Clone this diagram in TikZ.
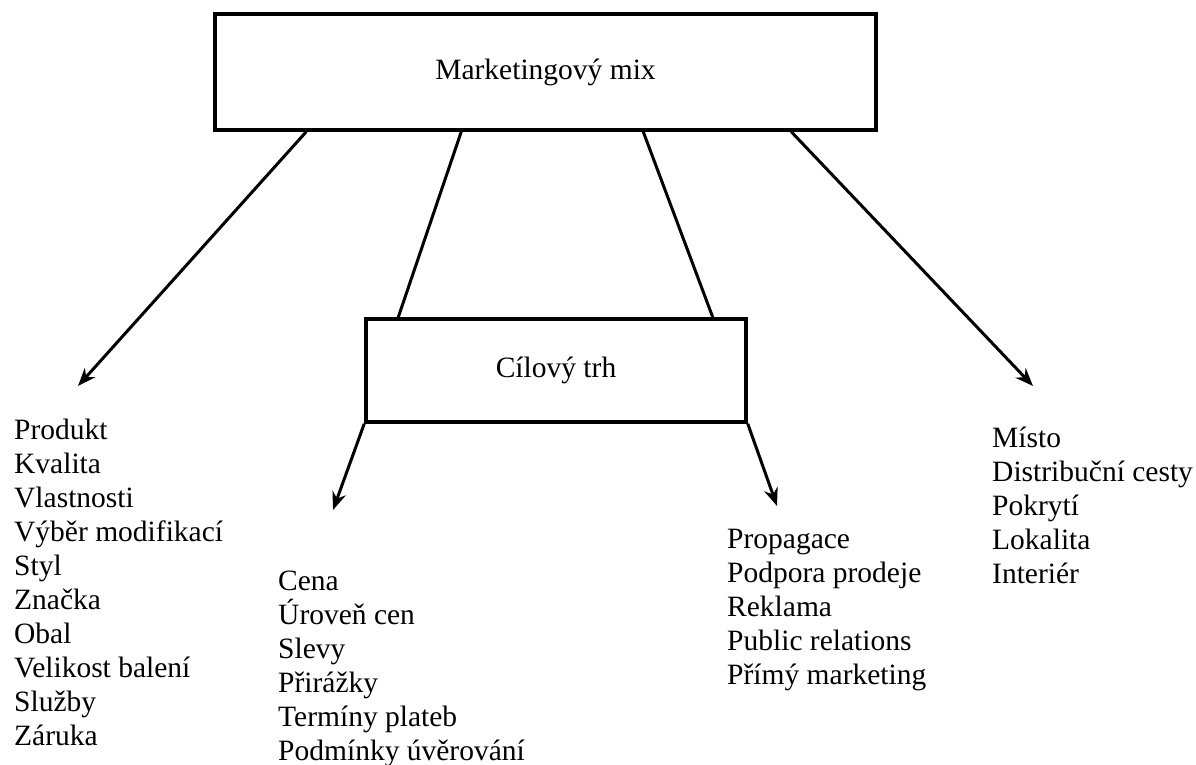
\documentclass[tikz,border=0pt]{standalone}
\usepackage{fontspec}
\setmainfont{Liberation Serif}
\usetikzlibrary{arrows.meta}
\tikzset{
    %Define style for boxes
    box/.style={
           rectangle,
           draw=black, line width=3.5pt,
           fill=white,
           inner sep=0pt,
           text centered},
 %
    listbox/.style={
           inner sep=0pt,
           anchor=base west,
           align=left},
%
    % Define arrow style
    arrow/.style={
           -{Stealth[length=18pt,width=14pt]},
           line width=3pt},
    plain/.style={
           line width=3pt}
}
\begin{document}
\begin{tikzpicture}[x=1pt, y=-1pt, font=\fontsize{29.5}{34}\selectfont]
  \useasboundingbox (0,0) rectangle (1196,765);

  \node[box, minimum width=661pt, minimum height=116pt] (mix) at (545.5,72) {Marketingový mix};
  \node[box, minimum width=380pt, minimum height=103pt] (cil) at (556,370.5) {Cílový trh};

  % lists (base = baseline of the last line)
  \node[listbox] (produkt) at (14,745) {Produkt\\Kvalita\\Vlastnosti\\Výběr modifikací\\Styl\\Značka\\Obal\\Velikost balení\\Služby\\Záruka};
  \node[listbox] (cena) at (278,760) {Cena\\Úroveň cen\\Slevy\\Přirážky\\Termíny plateb\\Podmínky úvěrování};
  \node[listbox] (propagace) at (727,684) {Propagace\\Podpora prodeje\\Reklama\\Public relations\\Přímý marketing};
  \node[listbox] (misto) at (992,583) {Místo\\Distribuční cesty\\Pokrytí\\Lokalita\\Interiér};

  % arrow tips above the lists
  \coordinate (produkttip) at (78,386);
  \coordinate (cenatip) at (333,510);
  \coordinate (propagacetip) at (777,506);
  \coordinate (mistotip) at (1033,386);

  \draw[arrow] ([xshift=93pt]mix.south west) -- (produkttip);
  \draw[plain] ([xshift=248pt]mix.south west) -- ([xshift=34pt]cil.north west);
  \draw[plain] ([xshift=430pt]mix.south west) -- ([xshift=-35pt]cil.north east);
  \draw[arrow] ([xshift=578pt]mix.south west) -- (mistotip);
  \draw[arrow] (cil.south west) -- (cenatip);
  \draw[arrow] (cil.south east) -- (propagacetip);
\end{tikzpicture}
\end{document}
